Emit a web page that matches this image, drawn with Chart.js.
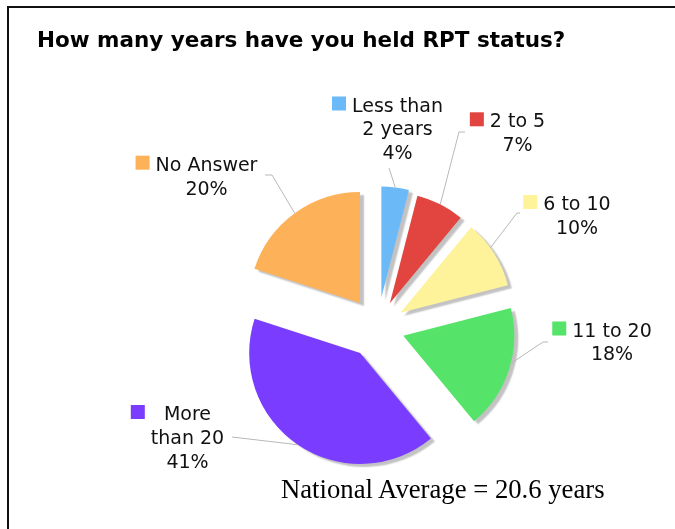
<!DOCTYPE html>
<html>
<head>
<meta charset="utf-8">
<script src="https://cdn.jsdelivr.net/npm/chart.js@4/dist/chart.umd.min.js"></script>
<style>
  html, body { margin: 0; padding: 0; background: #fff; overflow: hidden; width: 675px; height: 529px; }
  #wrap { position: absolute; left: 0; top: 0; width: 675px; height: 529px; }
  #title { position: absolute; left: 37px; top: 29px; margin: 0;
           font: bold 21.5px "DejaVu Sans", Verdana, sans-serif; line-height: 1; color: #000; white-space: nowrap; }
  #note { position: absolute; left: 281px; top: 476px; margin: 0;
          font: 26.7px "Liberation Serif", "Times New Roman", serif; line-height: 1; color: #000; white-space: nowrap; }
</style>
</head>
<body>
<div id="wrap">
  <canvas id="pie"></canvas>
</div>
<h1 id="title">How many years have you held RPT status?</h1>
<p id="note">National Average = 20.6 years</p>

<script>
// Données du graphique
const categories = [['Less than', '2 years'], ['2 to 5'], ['6 to 10'], ['11 to 20'], ['More', 'than 20'], ['No Answer']];
const shares = [4, 7, 10, 18, 41, 20];
const colors = ['#6cb9f8', '#e2453f', '#fef29a', '#56e36a', '#7a3cff', '#fdb25a'];

// Mise en page (explosion des parts, étiquettes)
const explode = [30, 27, 27, 27, 31, 30];
const leaderTilt = [0, 0, -0.06, -0.06, 0, 0];
const labelCx = [397.5, 517.5, 577, 612, 187.5, 206.5];
const labelBase = [111.5, 127.3, 210, 336.5, 420, 170.7];
const elbows = [[389, 168], [459, 132], [517, 213], [543, 342], [232, 437], [272, 175]];
const tails = [null, [465, 132], [520, 213], [548, 342], null, [265, 175]];
const LINE_H = 23.8;

// Cadre (haut et gauche)
const framePlugin = {
  id: 'frame',
  beforeDraw(chart) {
    const ctx = chart.ctx;
    ctx.save();
    ctx.fillStyle = '#111';
    ctx.fillRect(7, 6, chart.width - 7, 2);
    ctx.fillRect(7, 6, 2, chart.height - 6);
    ctx.restore();
  }
};

// Parts décalées avec ombre
const explodePlugin = {
  id: 'explode',
  beforeDatasetDraw(chart, args) {
    const ctx = chart.ctx;
    args.meta.data.forEach((arc, i) => {
      const mid = (arc.startAngle + arc.endAngle) / 2;
      ctx.save();
      ctx.translate(Math.cos(mid) * explode[i], Math.sin(mid) * explode[i]);
      ctx.shadowColor = 'rgba(0,0,0,0.24)';
      ctx.shadowOffsetX = 4;
      ctx.shadowOffsetY = 3;
      ctx.shadowBlur = 1.5;
      arc.draw(ctx);
      ctx.restore();
    });
    return false;
  }
};

// Étiquettes avec lignes de rappel
const labelPlugin = {
  id: 'pieLabels',
  afterDatasetsDraw(chart) {
    const ctx = chart.ctx;
    const meta = chart.getDatasetMeta(0);
    ctx.save();
    meta.data.forEach((arc, i) => {
      const mid = (arc.startAngle + arc.endAngle) / 2;
      const cx = arc.x + Math.cos(mid) * explode[i];
      const cy = arc.y + Math.sin(mid) * explode[i];
      const a = mid + leaderTilt[i];
      const sx = cx + Math.cos(a) * arc.outerRadius;
      const sy = cy + Math.sin(a) * arc.outerRadius;

      ctx.strokeStyle = '#b8b8b8';
      ctx.lineWidth = 1;
      ctx.beginPath();
      ctx.moveTo(sx, sy);
      ctx.lineTo(elbows[i][0], elbows[i][1]);
      if (tails[i]) ctx.lineTo(tails[i][0], tails[i][1]);
      ctx.stroke();

      const lines = categories[i].concat([shares[i] + '%']);
      ctx.font = '19px "DejaVu Sans", Verdana, sans-serif';
      ctx.fillStyle = '#111';
      ctx.textAlign = 'center';
      ctx.textBaseline = 'alphabetic';
      let maxW = 0;
      lines.forEach((line, k) => {
        maxW = Math.max(maxW, ctx.measureText(line).width);
        ctx.fillText(line, labelCx[i], labelBase[i] + k * LINE_H);
      });
      ctx.fillStyle = colors[i];
      ctx.fillRect(labelCx[i] - maxW / 2 - 20, labelBase[i] - 15, 14, 14);
    });
    ctx.restore();
  }
};

new Chart(document.getElementById('pie'), {
  type: 'pie',
  data: {
    labels: categories,
    datasets: [{
      data: shares,
      backgroundColor: colors,
      borderWidth: 0
    }]
  },
  options: {
    responsive: true,
    maintainAspectRatio: false,
    animation: false,
    radius: 111,
    layout: { padding: { left: 227.6, right: 147.4, top: 177.3, bottom: 51.7 } },
    plugins: {
      legend: { display: false },
      tooltip: { enabled: false }
    }
  },
  plugins: [framePlugin, explodePlugin, labelPlugin]
});
</script>
</body>
</html>
